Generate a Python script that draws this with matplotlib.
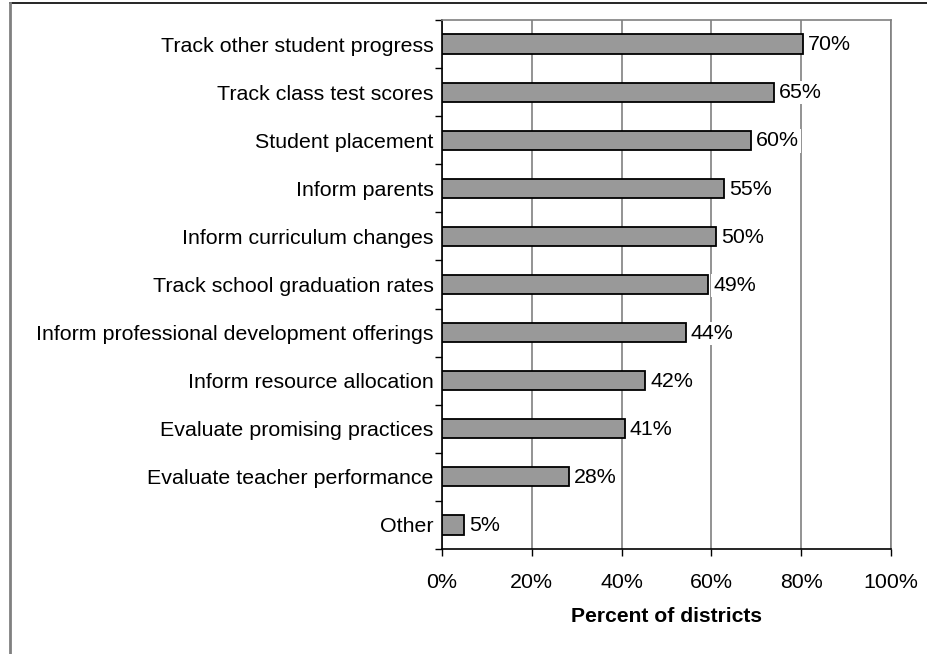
import numpy as np
import matplotlib.pyplot as plt
from matplotlib.lines import Line2D
from matplotlib.ticker import FixedLocator, PercentFormatter

plt.rcParams["font.family"] = ["Liberation Sans", "DejaVu Sans"]

# categories, top to bottom
categories = [
    "Track other student progress",
    "Track class test scores",
    "Student placement",
    "Inform parents",
    "Inform curriculum changes",
    "Track school graduation rates",
    "Inform professional development offerings",
    "Inform resource allocation",
    "Evaluate promising practices",
    "Evaluate teacher performance",
    "Other",
]
# bar lengths as drawn in the picture (percent)
bar_values = [80.3, 73.9, 68.9, 62.9, 61.1, 59.3, 54.3, 45.3, 40.7, 28.2, 5.0]
# labels printed next to the bars
value_labels = ["70%", "65%", "60%", "55%", "50%", "49%", "44%", "42%", "41%", "28%", "5%"]
x_ticks = [0, 20, 40, 60, 80, 100]

FS = 15.4

fig = plt.figure(figsize=(9.27, 6.54), dpi=100)
ax = fig.add_axes([442 / 927, 1 - 549 / 654, 449 / 927, 529 / 654])

y = np.arange(len(categories))
ax.barh(y, bar_values, height=0.4, color="#999999", edgecolor="black",
        linewidth=1.3, zorder=3)

for yi, v, lab in zip(y, bar_values, value_labels):
    ax.annotate(lab, (v, yi), xytext=(3.5, -0.5), textcoords="offset points",
                va="center", ha="left", fontsize=FS, zorder=4,
                bbox=dict(boxstyle="square,pad=0.1", fc="white", ec="none"))

ax.set_xlim(0, 100)
ax.set_ylim(len(categories) - 0.5, -0.5)
ax.set_xticks(x_ticks)
ax.xaxis.set_major_formatter(PercentFormatter(decimals=0))
ax.set_yticks(y)
ax.set_yticklabels(categories)
ax.yaxis.set_minor_locator(FixedLocator(np.arange(len(categories) + 1) - 0.5))
ax.tick_params(axis="y", which="major", length=0, pad=6, labelsize=FS)
ax.tick_params(axis="y", which="minor", length=5, width=1, direction="out")
ax.tick_params(axis="x", length=5, width=1, pad=12, labelsize=FS)

ax.grid(axis="x", color="#808080", linewidth=1.2, zorder=0)
ax.set_axisbelow(True)
ax.spines["left"].set_color("black")
ax.spines["bottom"].set_color("black")
ax.spines["top"].set_color("#808080")
ax.spines["right"].set_color("#808080")
for s in ax.spines.values():
    s.set_linewidth(1.2)

ax.set_xlabel("Percent of districts", fontsize=15.2, fontweight="bold", labelpad=11)

# outer frame lines (top and left) of the original picture
fig.add_artist(Line2D([10 / 927, 1], [1 - 3 / 654, 1 - 3 / 654],
                      transform=fig.transFigure, color="black", linewidth=1.2))
fig.add_artist(Line2D([10 / 927, 10 / 927], [0, 1 - 3 / 654],
                      transform=fig.transFigure, color="#808080", linewidth=2))

fig.savefig("out.png", dpi=100)
